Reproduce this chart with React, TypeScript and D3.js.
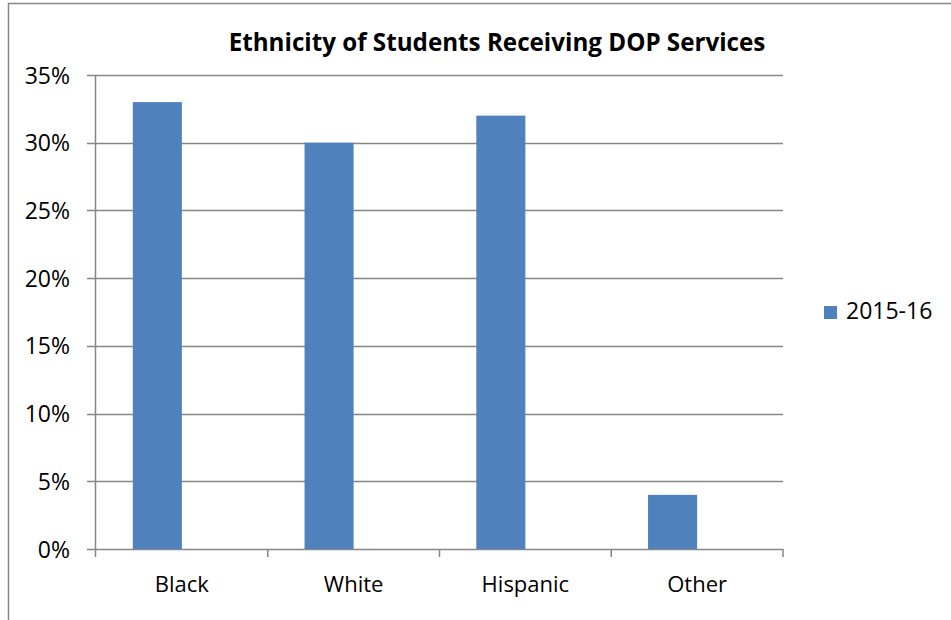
import React from "react";
import * as d3 from "d3";

const categories = ["Black", "White", "Hispanic", "Other"];
const values = [0.33, 0.30, 0.32, 0.04];
const seriesName = "2015-16";
const yTicks = [0, 0.05, 0.10, 0.15, 0.20, 0.25, 0.30, 0.35];
const title = "Ethnicity of Students Receiving DOP Services";

export default function App() {
  const W = 951, H = 620;
  const left = 96, right = 783, top = 75, bottom = 549;
  const x = d3.scaleBand<string>().domain(categories).range([left, right]).padding(0);
  const y = d3.scaleLinear().domain([0, 0.35]).range([bottom, top]);
  const bw = x.bandwidth() / 3.5;
  const font = "'Open Sans', sans-serif";
  const grid = "#868686";
  const fmt = d3.format(".0%");
  return (
    <svg width={W} height={H} style={{ position: "absolute", left: 0, top: 0 }}>
      <rect x={0} y={0} width={W} height={H} fill="#fff" />
      <path d={`M8.5,${H} V3.5 H${W}`} fill="none" stroke="#888" strokeWidth={1.5} />
      <text x={497} y={51} textAnchor="middle" fontFamily={font} fontWeight="bold" fontSize={24.2} fill="#000">{title}</text>
      {yTicks.map((t) => (
        <g key={t}>
          <line x1={87} x2={right} y1={Math.round(y(t)) + 0.5} y2={Math.round(y(t)) + 0.5} stroke={grid} strokeWidth={1.5} />
          <text x={70} y={y(t) + 8.5} textAnchor="end" fontFamily={font} fontSize={23} fill="#000">{fmt(t)}</text>
        </g>
      ))}
      <line x1={left - 0.5} x2={left - 0.5} y1={top} y2={bottom + 8} stroke={grid} strokeWidth={1.5} />
      {categories.map((c) => (
        <line key={"tk" + c} x1={(x(c) as number) + x.bandwidth()} x2={(x(c) as number) + x.bandwidth()} y1={bottom} y2={bottom + 8} stroke={grid} strokeWidth={1.5} />
      ))}
      {categories.map((c, i) => {
        const cx = (x(c) as number) + x.bandwidth() / 2;
        return (
          <g key={c}>
            <rect x={cx - bw} y={y(values[i])} width={bw} height={bottom - y(values[i])} fill="#4F81BD" />
            <text x={cx} y={592} textAnchor="middle" fontFamily={font} fontSize={22} fill="#000">{c}</text>
          </g>
        );
      })}
      <rect x={824} y={306} width={13} height={13} fill="#4F81BD" />
      <text x={846} y={319} fontFamily={font} fontSize={23} fill="#000">{seriesName}</text>
    </svg>
  );
}
